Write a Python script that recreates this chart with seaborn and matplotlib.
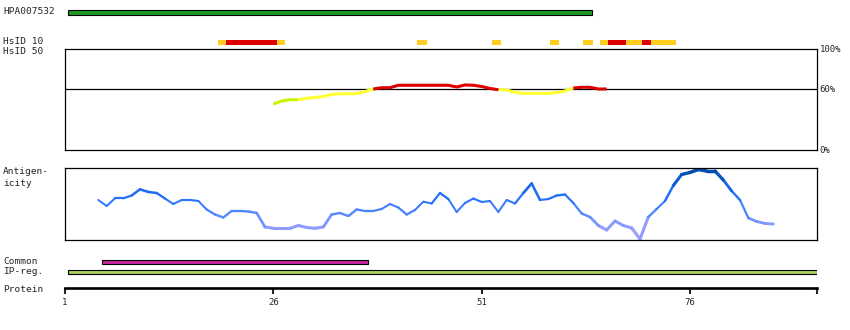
import numpy as np
import pandas as pd
import matplotlib
matplotlib.use("Agg")
import matplotlib.pyplot as plt
import seaborn as sns
from matplotlib.colors import LinearSegmentedColormap

# ---------------- data ----------------
hpa_label = "HPA007532"
hpa_span = [1.36, 64.24]

hsid_start = [19.4, 20.3, 26.4, 43.2, 52.2, 59.2, 63.2, 65.2, 66.2, 68.3, 70.2, 71.3]
hsid_end = [20.3, 26.4, 27.4, 44.4, 53.3, 60.3, 64.4, 66.2, 68.3, 70.2, 71.3, 74.3]
hsid_level = ["mid", "high", "mid", "mid", "mid", "mid", "mid", "mid", "high", "mid", "high", "mid"]

id_res = list(range(26, 67))
id_pct = [45.0, 48.0, 49.3, 49.3, 50.7, 51.5, 52.5, 54.5, 55.2, 55.2,
          55.4, 57.4, 59.9, 61.2, 61.2, 63.6, 63.6, 63.6, 63.6, 63.6,
          63.6, 63.6, 61.9, 63.9, 63.6, 62.4, 60.4, 59.2, 58.9, 56.6,
          55.6, 55.6, 55.6, 55.6, 56.4, 57.9, 60.9, 61.6, 61.6, 59.9,
          59.9]

ag_res = list(range(5, 87))
ag_score = [0.556, 0.472, 0.579, 0.579, 0.618, 0.704, 0.667, 0.653, 0.576, 0.500,
            0.556, 0.556, 0.542, 0.424, 0.354, 0.313, 0.403, 0.403, 0.396, 0.375,
            0.181, 0.163, 0.163, 0.163, 0.201, 0.174, 0.163, 0.181, 0.354, 0.375,
            0.333, 0.424, 0.403, 0.403, 0.431, 0.500, 0.451, 0.354, 0.417, 0.532,
            0.507, 0.653, 0.569, 0.389, 0.514, 0.576, 0.528, 0.542, 0.389, 0.556,
            0.507, 0.653, 0.785, 0.556, 0.569, 0.618, 0.632, 0.514, 0.368, 0.319,
            0.201, 0.139, 0.264, 0.201, 0.167, 0.014, 0.319, 0.431, 0.542, 0.757,
            0.910, 0.938, 0.979, 0.958, 0.958, 0.833, 0.681, 0.556, 0.306, 0.257,
            0.230, 0.222]

common_span = [5.45, 37.35]
ipreg_span = [1.36, 91.24]
protein_end = 91.24
tick_pos = [1, 26, 51, 76]
tick_labels = ["1", "26", "51", "76"]
pct_ticks = [100, 60, 0]
pct_labels = ["100%", "60%", "0%"]

# ---------------- style ----------------
sns.set_style("white")
plt.rcParams["font.family"] = ["DejaVu Sans Mono", "DejaVu Sans"]

W, H = 850, 330
fig = plt.figure(figsize=(W / 100, H / 100), dpi=100)
XLIM = (1, protein_end)


def px_axes(x0, y0, x1, y1):
    return fig.add_axes([x0 / W, 1 - y1 / H, (x1 - x0) / W, (y1 - y0) / H])


def seg_frame(xs, ys):
    rows = []
    for i in range(len(xs) - 1):
        v = (ys[i] + ys[i + 1]) / 2
        rows.append(dict(seg=i, x=xs[i], y=ys[i], v=v))
        rows.append(dict(seg=i, x=xs[i + 1], y=ys[i + 1], v=v))
    return pd.DataFrame(rows)


def id_class(v):
    return "low" if v < 50 else ("mid" if v < 59.5 else "high")


def run_frame(xs, ys):
    # group consecutive segments of the same class into continuous runs
    rows = []
    run = -1
    prev = None
    for i in range(len(xs) - 1):
        c = id_class((ys[i] + ys[i + 1]) / 2)
        if c != prev:
            run += 1
            rows.append(dict(run=run, cls=c, x=xs[i], y=ys[i]))
            prev = c
        rows.append(dict(run=run, cls=c, x=xs[i + 1], y=ys[i + 1]))
    return pd.DataFrame(rows)


LABEL_FS = 6.8


def label(x, y, s, **kw):
    fig.text(x / W, 1 - y / H, s, fontsize=LABEL_FS, va="center", ha="left", **kw)


# ---------------- top rows ----------------
ax_top = px_axes(65, 0, 817, 48)
ax_top.set_xlim(*XLIM)
ax_top.set_ylim(48, 0)
ax_top.axis("off")
ax_top.barh(12.5, hpa_span[1] - hpa_span[0], left=hpa_span[0], height=4.2,
            color="#1f9a1f", edgecolor="black", linewidth=0.8)
hs_colors = {"mid": "#ffcc22", "high": "#dd0000"}
for s, e, lv in zip(hsid_start, hsid_end, hsid_level):
    ax_top.barh(42.5, e - s, left=s, height=5, color=hs_colors[lv], linewidth=0)

label(3, 12, hpa_label)
label(3, 42, "HsID 10")
label(3, 52, "HsID 50")

# ---------------- identity panel ----------------
ax_id = px_axes(65, 48.5, 817, 149.5)
ax_id.set_xlim(*XLIM)
ax_id.set_ylim(0, 100)
for sp in ax_id.spines.values():
    sp.set_visible(True)
    sp.set_color("black")
    sp.set_linewidth(0.9)
ax_id.axhline(60, color="black", linewidth=0.9, zorder=1)
df_id = run_frame(id_res, id_pct)
sns.lineplot(data=df_id, x="x", y="y", hue="cls", units="run", estimator=None, sort=False,
             palette={"low": "#c8f500", "mid": "#ffff33", "high": "#dd0000"},
             legend=False, linewidth=2.2, solid_capstyle="butt", ax=ax_id, zorder=3)
ax_id.set_xlabel("")
ax_id.set_ylabel("")
ax_id.set_xticks([])
ax_id.yaxis.tick_right()
ax_id.set_yticks(pct_ticks)
ax_id.set_yticklabels(pct_labels)
ax_id.tick_params(axis="y", length=0, pad=2, labelsize=6.5)

# ---------------- antigenicity panel ----------------
ax_ag = px_axes(65, 168, 817, 240)
ax_ag.set_xlim(*XLIM)
ax_ag.set_ylim(0, 1)
for sp in ax_ag.spines.values():
    sp.set_visible(True)
    sp.set_color("black")
    sp.set_linewidth(0.9)
cmap = LinearSegmentedColormap.from_list(
    "ag", [(0.0, "#b4a4ff"), (0.2, "#8a9aff"), (0.4, "#4d84ff"), (0.55, "#2b74ff"),
           (0.75, "#1566ee"), (1.0, "#004a9e")])
df_ag = seg_frame(ag_res, ag_score)
df_ag["w"] = (df_ag["v"] - 0.5).abs()
sns.lineplot(data=df_ag, x="x", y="y", hue="v", palette=cmap, hue_norm=(0, 1),
             size="w", sizes=(1.4, 2.6), size_norm=(0, 0.5), units="seg",
             estimator=None, legend=False, solid_capstyle="round", ax=ax_ag)
ax_ag.set_xlabel("")
ax_ag.set_ylabel("")
ax_ag.set_xticks([])
ax_ag.set_yticks([])
label(3, 172, "Antigen-")
label(3, 183, "icity")

# ---------------- bottom rows ----------------
ax_bot = px_axes(65, 255, 817, 288)
ax_bot.set_xlim(*XLIM)
ax_bot.set_ylim(288, 255)
for name, sp in ax_bot.spines.items():
    sp.set_visible(name == "bottom")
ax_bot.spines["bottom"].set_linewidth(1.9)
ax_bot.spines["bottom"].set_color("black")
ax_bot.barh(262, common_span[1] - common_span[0], left=common_span[0], height=4.3,
            color="#c8259f", edgecolor="black", linewidth=0.8)
ax_bot.barh(272, ipreg_span[1] - ipreg_span[0], left=ipreg_span[0], height=4.3,
            color="#a8d05a", edgecolor="black", linewidth=0.8)
ax_bot.set_yticks([])
ax_bot.set_xticks(tick_pos + [protein_end])
ax_bot.set_xticklabels(tick_labels + [""])
ax_bot.tick_params(axis="x", direction="out", length=4, width=1.5, pad=3,
                   labelsize=6.5, bottom=True)
label(3, 262, "Common")
label(3, 271, "IP-reg.")
label(3, 289, "Protein")

fig.savefig("out.png", dpi=100, facecolor="white")
